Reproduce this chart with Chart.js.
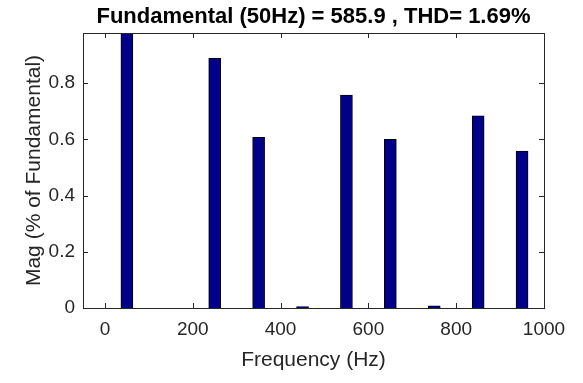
<!DOCTYPE html>
<html>
<head>
<meta charset="utf-8">
<script src="https://cdn.jsdelivr.net/npm/chart.js@4.4.1/dist/chart.umd.min.js"></script>
<style>
  html, body { margin: 0; padding: 0; background: #ffffff; }
  #wrap { width: 583px; height: 383px; position: relative; }
</style>
</head>
<body>
<div id="wrap"><canvas id="c" width="583" height="383"></canvas></div>
<script>
// ---- data ----
const titleText = "Fundamental (50Hz) = 585.9 , THD= 1.69%";
const xLabel = "Frequency (Hz)";
const yLabel = "Mag (% of Fundamental)";
const freqs = [50, 250, 350, 450, 550, 650, 750, 850, 950];
const mags  = [100, 0.888, 0.607, 0.005, 0.757, 0.600, 0.008, 0.683, 0.558];
const xTicks = [0, 200, 400, 600, 800, 1000];
const yTicks = [0, 0.2, 0.4, 0.6, 0.8];
const xRange = [-50, 1000];
const yRange = [0, 0.978];

const FONT = "'Liberation Sans', Arial, Helvetica, sans-serif";
const INK = '#262626';

const frame = {
  id: 'frame',
  afterDraw(chart) {
    const {ctx, chartArea: a, scales} = chart;
    ctx.save();
    ctx.strokeStyle = INK;
    ctx.lineWidth = 1;
    const tl = 5;
    ctx.beginPath();
    scales.x.ticks.forEach(t => {
      const px = Math.round(scales.x.getPixelForValue(t.value)) + 0.5;
      ctx.moveTo(px, a.bottom); ctx.lineTo(px, a.bottom - tl);
      ctx.moveTo(px, a.top); ctx.lineTo(px, a.top + tl);
    });
    scales.y.ticks.forEach(t => {
      const py = Math.round(scales.y.getPixelForValue(t.value)) + 0.5;
      ctx.moveTo(a.left, py); ctx.lineTo(a.left + tl, py);
      ctx.moveTo(a.right, py); ctx.lineTo(a.right - tl, py);
    });
    ctx.stroke();
    ctx.strokeRect(Math.round(a.left) + 0.5, Math.round(a.top) + 0.5,
                   Math.round(a.right - a.left), Math.round(a.bottom - a.top));
    // title
    ctx.fillStyle = '#000000';
    ctx.font = "bold 22px " + FONT;
    ctx.textAlign = 'center';
    ctx.textBaseline = 'middle';
    ctx.fillText(titleText, (a.left + a.right) / 2, 17);
    ctx.restore();
  }
};

new Chart(document.getElementById('c'), {
  type: 'bar',
  data: {
    datasets: [{
      data: freqs.map((f, i) => ({x: f, y: mags[i]})),
      backgroundColor: '#000088',
      borderColor: '#000000',
      borderWidth: 1,
      barThickness: 12
    }]
  },
  options: {
    responsive: false,
    animation: false,
    devicePixelRatio: 1,
    layout: { padding: { top: 33, right: 39, left: 0, bottom: 0 } },
    plugins: { legend: { display: false }, title: { display: false }, tooltip: { enabled: false } },
    scales: {
      x: {
        type: 'linear',
        min: xRange[0], max: xRange[1],
        offset: false,
        grid: { display: false, drawTicks: false },
        border: { display: false },
        afterBuildTicks: s => { s.ticks = xTicks.map(v => ({value: v})); },
        afterFit: s => { s.height = 75; },
        ticks: {
          color: INK, font: { family: FONT, size: 19 }, padding: 10,
          maxRotation: 0, autoSkip: false,
          callback: v => String(v)
        },
        title: {
          display: true, text: xLabel, color: INK,
          font: { family: FONT, size: 21 }, padding: { top: 0, bottom: 10 }
        }
      },
      y: {
        type: 'linear',
        min: yRange[0], max: yRange[1],
        grid: { display: false, drawTicks: false },
        border: { display: false },
        afterBuildTicks: s => { s.ticks = yTicks.map(v => ({value: v})); },
        afterFit: s => { s.width = 83; },
        ticks: {
          color: INK, font: { family: FONT, size: 19 }, padding: 8,
          callback: v => String(Math.round(v * 10) / 10)
        },
        title: {
          display: true, text: yLabel, color: INK,
          font: { family: FONT, size: 21 }, padding: { top: 22, bottom: 0 }
        }
      }
    }
  },
  plugins: [frame]
});
</script>
</body>
</html>
